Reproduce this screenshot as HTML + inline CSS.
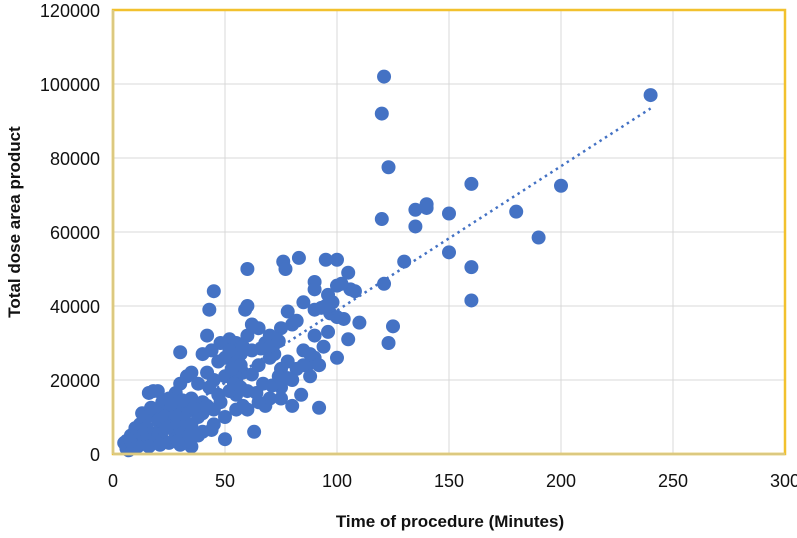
<!DOCTYPE html>
<html><head><meta charset="utf-8"><style>
body{margin:0;background:#fff;font-family:"Liberation Sans",sans-serif}
</style></head><body>
<svg id="chart" width="797" height="533" xmlns="http://www.w3.org/2000/svg" font-family="Liberation Sans, sans-serif">
<g id="grid"></g>
<g id="pts"></g>
<g id="trend"></g>
<g id="axes"></g>
<text x="450" y="527" text-anchor="middle" font-size="17" font-weight="bold" fill="#111">Time of procedure (Minutes)</text>
<text transform="translate(20,222) rotate(-90)" text-anchor="middle" font-size="17" font-weight="bold" fill="#111">Total dose area product</text>
</svg>
<script>
const xTicks=[0,50,100,150,200,250,300];
const yTicks=[0,20000,40000,60000,80000,100000,120000];
const timeMin=[121,120,123,120,121,123,125,130,135,135,140,140,150,150,160,160,160,180,190,200,240,
95,100,83,76,77,60,60,59,45,43,105,106,108,102,100,90,90,96,98,93,97,103,110,105,100,92,90,90,88,85,80,78,82,75,73,70,65,68,60,62,55,52,57,55,50,48,42,44,40,30,35,42,45,50,55,58,62,65,70,72,75,78,82,85,88,80,75,80,75,70,68,65,60,58,55,63,50,45,40,35,30,38,45,50,55,47,43,38,33,30,28,25,20,16,18,22,35,40,30,25,20,15,12,10,8,6,5,7,6,9,12,15,18,20,22,25,28,30,32,35,38,40,42,20,15,10,13,17,23,27,33,36,28,26,31,24,19,14,11,8,16,21,29,34,44,48,52,54,57,60,64,67,71,74,78,84,88,92,94,96,100,85,90,95,57,53,47,52,58,62,66,70,74];
const doseArea=[102000,92000,77500,63500,46000,30000,34500,52000,66000,61500,67500,66500,65000,54500,73000,50500,41500,65500,58500,72500,97000,
52500,52500,53000,52000,50000,50000,40000,39000,44000,39000,49000,44500,44000,46000,45500,46500,44500,43000,41000,39500,38000,36500,35500,31000,26000,12500,32000,26000,24500,28000,35000,38500,36000,34000,31000,32000,34000,30000,32000,35000,30000,31000,27000,25000,26000,30000,32000,28000,27000,27500,22000,22000,20000,21000,20000,22000,21500,24000,26000,27000,23000,25000,23000,24000,27000,20000,18000,13000,15000,15000,13000,14000,12000,13000,16000,6000,4000,8000,6000,2000,2500,10000,12000,10000,12000,16000,18000,19000,21000,19000,16500,15000,17000,16500,17000,14000,15000,14000,13000,12000,11000,10000,8000,7000,5000,3500,3000,1000,1500,2500,4000,3000,5000,6000,4000,3000,5000,7000,9000,8000,5000,11000,13000,9000,7000,4500,11000,12500,10000,8500,11500,12500,10500,13500,14500,7000,3500,5500,2000,3500,2000,2500,3500,5000,6500,14000,17000,19000,18000,17000,16500,19000,18500,21000,20500,16000,21000,24000,29000,33000,37000,41000,39000,40000,24000,23000,25000,28000,29000,28000,28500,29000,30500];
const trendStart=[5,1700], trendEnd=[240,93400];
const L=113,R=785,T=10,B=454;
const X=v=>L+(v-0)/300*(R-L), Y=v=>B-v/120000*(B-T);
const NS="http://www.w3.org/2000/svg";
function mk(parent,tag,attrs){const e=document.createElementNS(NS,tag);for(const k in attrs)e.setAttribute(k,attrs[k]);parent.appendChild(e);return e;}
const grid=document.getElementById('grid'),axes=document.getElementById('axes'),pts=document.getElementById('pts'),tr=document.getElementById('trend');
xTicks.forEach(t=>{const l=mk(grid,'line',{x1:X(t),x2:X(t),y1:T,y2:B,stroke:'#d9d9d9','stroke-width':1});


const tx=mk(axes,'text',{x:X(t),y:B+33,'text-anchor':'middle','font-size':18,fill:'#111'});tx.textContent=t;

});
yTicks.forEach(t=>{const l=mk(grid,'line',{x1:L,x2:R,y1:Y(t),y2:Y(t),stroke:'#d9d9d9','stroke-width':1});


const tx=mk(axes,'text',{x:L-13,y:Y(t)+7,'text-anchor':'end','font-size':18,fill:'#111'});tx.textContent=t;

});
timeMin.forEach((v,i)=>{const c=mk(pts,'circle',{cx:X(v),cy:Y(doseArea[i]),r:7,fill:'#4472c4'});

});
const tl=mk(tr,'line',{x1:X(trendStart[0]),y1:Y(trendStart[1]),x2:X(trendEnd[0]),y2:Y(trendEnd[1]),stroke:'#4472c4','stroke-width':2.5,'stroke-dasharray':'2.5 4'});


const fr=mk(axes,'rect',{x:L,y:T,width:R-L,height:B-T,fill:'none',stroke:'#f2c12e','stroke-width':2.5});


const la=mk(axes,'line',{x1:L,x2:L,y1:T,y2:B,stroke:'#dcc980','stroke-width':2.5});


const ba=mk(axes,'line',{x1:L,x2:R,y1:B,y2:B,stroke:'#dcc980','stroke-width':2.5});


</script>
</body></html>
